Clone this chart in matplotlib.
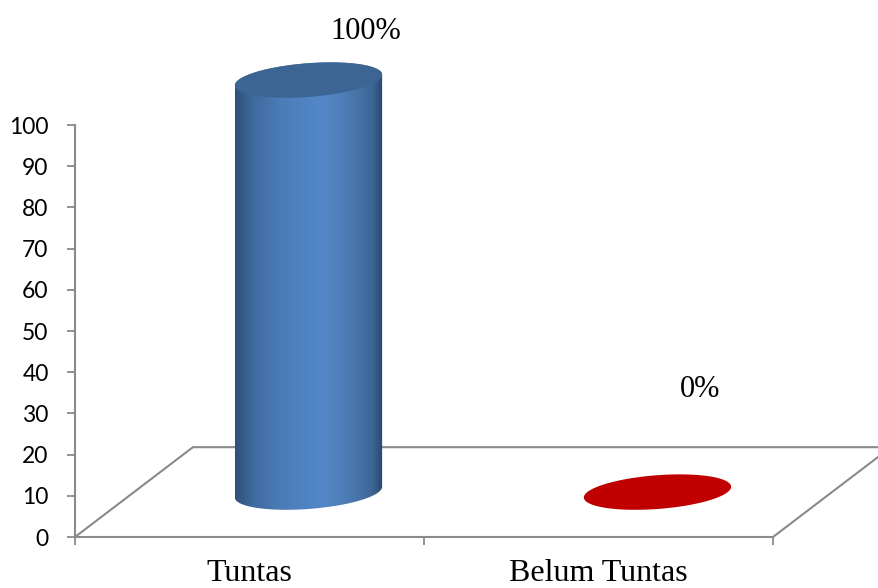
import numpy as np
import matplotlib
matplotlib.use('Agg')
import matplotlib.pyplot as plt
from matplotlib.colors import LinearSegmentedColormap
from matplotlib.patches import Polygon

categories = ['Tuntas', 'Belum Tuntas']
values = [100, 0]
value_labels = ['100%', '0%']
y_ticks = [0, 10, 20, 30, 40, 50, 60, 70, 80, 90, 100]

# depth of the fake 3d floor, in axis units
depth_x = 0.338
depth_y = 21.8
# cylinder ellipse shape
rad_x = 0.211
rad_y = 4.1
tilt = 1.3

grey = '#8a8a8a'
blue_map = LinearSegmentedColormap.from_list('cyl', [
    (0.0, '#2f4f78'), (0.12, '#3f6a9e'), (0.3, '#4a7cb6'), (0.6, '#5488c9'),
    (0.8, '#4a78ad'), (0.93, '#3c6594'), (1.0, '#2a476c')])


#I get the outline of the ellipse on the floor
def ellipse(cx, cy, t):
    return cx + rad_x*np.cos(t), cy + tilt*np.cos(t) + rad_y*np.sin(t)


fig = plt.figure(figsize=(8.79, 5.88), dpi=100)
ax = fig.add_axes([75/879, (588-537)/588, (773-75)/879, (537-125)/588])
ax.set_xlim(0, 2)
ax.set_ylim(0, 100)

#I draw the floor
ax.plot([0, depth_x, 2+depth_x], [0, depth_y, depth_y], color=grey, lw=1.5, clip_on=False, zorder=1)
ax.plot([2, 2+depth_x], [0, depth_y], color=grey, lw=1.5, clip_on=False, zorder=1)

t = np.linspace(0, 2*np.pi, 200)
for i, v in enumerate(values):
    cx = i + 0.5 + depth_x/2
    cy = depth_y/2
    if v > 0:
        #I make the side of the cylinder with a gradient clipped to its shape
        low = np.linspace(np.pi, 2*np.pi, 100)
        bx, by = ellipse(cx, cy, low)
        tx, ty = ellipse(cx, cy+v, low-np.pi)
        side = Polygon(np.column_stack([np.r_[bx, tx], np.r_[by, ty]]), closed=True,
                       transform=ax.transData, fc='none', ec='none', clip_on=False)
        ax.add_patch(side)
        im = ax.imshow(np.linspace(0, 1, 256).reshape(1, -1), cmap=blue_map, aspect='auto',
                       extent=[cx-rad_x, cx+rad_x, 0, cy+v+rad_y+tilt], zorder=3)
        im.set_clip_box(fig.bbox)
        im.set_clip_path(side)
    ex, ey = ellipse(cx, cy+v, t)
    ax.fill(ex, ey, color='#c00000' if v == 0 else '#3d6594', lw=0, clip_on=False, zorder=4)

ax.set_xlim(0, 2)
ax.set_ylim(0, 100)

#I put the value labels by hand offset from the top of each bar
offsets = [(41, 35), (31, 74)]
for i, v in enumerate(values):
    ax.annotate(value_labels[i], xy=(i+0.5+depth_x/2, depth_y/2+v), xytext=offsets[i],
                textcoords='offset points', ha='center', va='center',
                family='Liberation Serif', fontsize=22, color='black', annotation_clip=False)

for s in ['top', 'right']:
    ax.spines[s].set_visible(False)
for s in ['left', 'bottom']:
    ax.spines[s].set_color(grey)
    ax.spines[s].set_linewidth(1.5)

ax.set_yticks(y_ticks)
ax.set_yticklabels([str(y) for y in y_ticks], family='Lato', fontsize=16.5)
ax.tick_params(axis='y', length=6, width=1.3, color=grey, pad=13, labelcolor='black')

ax.set_xticks([0, 1, 2])
ax.set_xticklabels([])
ax.tick_params(axis='x', which='major', length=6, width=1.3, color=grey)
ax.set_xticks([0.5, 1.5], minor=True)
ax.set_xticklabels(categories, minor=True, family='Liberation Serif', fontsize=23)
ax.tick_params(axis='x', which='minor', length=0, pad=16)

fig.savefig('out.png', dpi=100)
